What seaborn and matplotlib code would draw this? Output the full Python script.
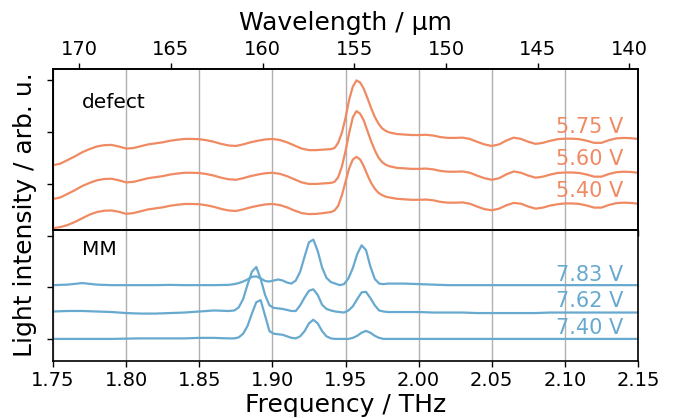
import matplotlib
matplotlib.use("Agg")
import matplotlib.pyplot as plt
import seaborn as sns

# --- dados ------------------------------------------------------------------
# grade de frequencia (THz) dos espectros "defect" (mais densa no pico)
freq_defect = [1.750, 1.755, 1.760, 1.765, 1.770, 1.775, 1.780, 1.785, 1.790, 1.795,
               1.800, 1.805, 1.810, 1.815, 1.820, 1.825, 1.830, 1.835, 1.840, 1.845,
               1.850, 1.855, 1.860, 1.865, 1.870, 1.875, 1.880, 1.885, 1.890, 1.895,
               1.900, 1.905, 1.910, 1.915, 1.920, 1.925, 1.930, 1.935, 1.940,
               1.9425, 1.945, 1.9475, 1.950, 1.9525, 1.955, 1.9575, 1.960, 1.9625,
               1.965, 1.9675, 1.970, 1.9725, 1.975, 1.9775, 1.980,
               1.985, 1.990, 1.995,
               2.000, 2.005, 2.010, 2.015, 2.020, 2.025, 2.030, 2.035, 2.040, 2.045,
               2.050, 2.055, 2.060, 2.065, 2.070, 2.075, 2.080, 2.085, 2.090, 2.095,
               2.100, 2.105, 2.110, 2.115, 2.120, 2.125, 2.130, 2.135, 2.140, 2.145,
               2.150]

defect_575 = [0.36, 0.39, 0.46, 0.53, 0.61, 0.67, 0.72, 0.745, 0.75, 0.72,
              0.68, 0.69, 0.725, 0.76, 0.78, 0.80, 0.83, 0.85, 0.865, 0.865,
              0.86, 0.84, 0.81, 0.77, 0.74, 0.73, 0.76, 0.80, 0.83, 0.855,
              0.865, 0.845, 0.80, 0.74, 0.68, 0.65, 0.65, 0.66, 0.67,
              0.69, 0.79, 0.98, 1.27, 1.62, 1.87, 1.99, 1.95, 1.83,
              1.65, 1.46, 1.29, 1.16, 1.07, 1.02, 0.99,
              0.96, 0.95, 0.94,
              0.94, 0.945, 0.93, 0.90, 0.885, 0.885, 0.89, 0.865, 0.81, 0.76,
              0.73, 0.76, 0.835, 0.89, 0.865, 0.81, 0.77, 0.79, 0.83, 0.86,
              0.87, 0.87, 0.86, 0.83, 0.79, 0.79, 0.84, 0.875, 0.885, 0.88,
              0.865]

defect_560 = [-0.29, -0.26, -0.19, -0.12, -0.04, 0.02, 0.07, 0.095, 0.10, 0.07,
              0.03, 0.04, 0.075, 0.11, 0.13, 0.15, 0.18, 0.20, 0.215, 0.215,
              0.21, 0.19, 0.16, 0.12, 0.09, 0.08, 0.11, 0.15, 0.18, 0.205,
              0.215, 0.195, 0.15, 0.09, 0.03, 0.00, 0.00, 0.01, 0.02,
              0.04, 0.13, 0.33, 0.63, 0.98, 1.28, 1.40, 1.35, 1.22,
              1.02, 0.82, 0.65, 0.51, 0.42, 0.37, 0.34,
              0.31, 0.30, 0.29,
              0.29, 0.295, 0.28, 0.25, 0.235, 0.235, 0.24, 0.215, 0.16, 0.11,
              0.08, 0.11, 0.185, 0.24, 0.215, 0.16, 0.12, 0.14, 0.18, 0.21,
              0.22, 0.22, 0.21, 0.18, 0.14, 0.14, 0.19, 0.225, 0.235, 0.23,
              0.215]

defect_540 = [-0.85, -0.83, -0.79, -0.73, -0.66, -0.59, -0.54, -0.515, -0.51, -0.535,
              -0.575, -0.56, -0.525, -0.49, -0.47, -0.45, -0.42, -0.40, -0.385, -0.385,
              -0.39, -0.41, -0.44, -0.48, -0.51, -0.52, -0.49, -0.45, -0.42, -0.395,
              -0.385, -0.405, -0.45, -0.51, -0.56, -0.58, -0.575, -0.56, -0.54,
              -0.51, -0.42, -0.22, 0.04, 0.30, 0.47, 0.52, 0.47, 0.34,
              0.17, 0.02, -0.09, -0.17, -0.215, -0.245, -0.26,
              -0.285, -0.295, -0.305,
              -0.305, -0.30, -0.315, -0.345, -0.36, -0.36, -0.355, -0.38, -0.435, -0.485,
              -0.505, -0.475, -0.41, -0.365, -0.38, -0.435, -0.475, -0.455, -0.415, -0.39,
              -0.375, -0.375, -0.385, -0.415, -0.455, -0.455, -0.405, -0.37, -0.36, -0.365,
              -0.38]

# grade de frequencia (THz) dos espectros "MM" (mais densa nos picos)
freq_mm = [1.75, 1.76, 1.77, 1.78, 1.79, 1.80, 1.81, 1.82, 1.83, 1.84, 1.85, 1.86, 1.87,
           1.874, 1.877, 1.880, 1.883, 1.886, 1.889, 1.892, 1.895, 1.898, 1.901,
           1.904, 1.907, 1.910, 1.913, 1.916, 1.919, 1.922, 1.925, 1.928, 1.931,
           1.934, 1.937, 1.940, 1.943, 1.946, 1.949, 1.952, 1.955, 1.958, 1.961,
           1.964, 1.967, 1.970, 1.973, 1.976, 1.979,
           1.99, 2.00, 2.01, 2.02, 2.03, 2.04, 2.05, 2.06, 2.07, 2.08, 2.09,
           2.10, 2.11, 2.12, 2.13, 2.14, 2.15]

mm_783 = [1.04, 1.05, 1.08, 1.05, 1.04, 1.04, 1.04, 1.04, 1.045, 1.04, 1.04, 1.04, 1.045,
          1.06, 1.08, 1.11, 1.15, 1.20, 1.21, 1.17, 1.12, 1.11, 1.13,
          1.15, 1.13, 1.09, 1.07, 1.13, 1.30, 1.59, 1.87, 1.92, 1.70,
          1.38, 1.18, 1.10, 1.07, 1.04, 1.06, 1.17, 1.37, 1.64, 1.81,
          1.72, 1.40, 1.16, 1.07, 1.06, 1.07,
          1.07, 1.06, 1.05, 1.04, 1.04, 1.04, 1.04, 1.04, 1.04, 1.04, 1.04,
          1.04, 1.04, 1.04, 1.04, 1.04, 1.04]

mm_762 = [0.53, 0.54, 0.54, 0.53, 0.52, 0.50, 0.49, 0.49, 0.50, 0.51, 0.53, 0.55, 0.54,
          0.55, 0.61, 0.77, 1.05, 1.30, 1.39, 1.16, 0.85, 0.65, 0.60,
          0.59, 0.58, 0.56, 0.54, 0.54, 0.65, 0.80, 0.93, 0.96, 0.85,
          0.66, 0.58, 0.55, 0.53, 0.52, 0.51, 0.55, 0.63, 0.77, 0.90,
          0.91, 0.79, 0.65, 0.55, 0.53, 0.52,
          0.52, 0.52, 0.51, 0.51, 0.51, 0.50, 0.50, 0.50, 0.50, 0.50, 0.51,
          0.51, 0.51, 0.51, 0.51, 0.51, 0.51]

mm_740 = [0.00, 0.00, 0.00, 0.00, 0.00, 0.005, 0.01, 0.01, 0.01, 0.01, 0.02, 0.02, 0.01,
          0.01, 0.03, 0.10, 0.25, 0.49, 0.71, 0.75, 0.45, 0.15, 0.10,
          0.09, 0.08, 0.05, 0.02, 0.01, 0.05, 0.15, 0.30, 0.37, 0.30,
          0.15, 0.05, 0.01, 0.00, 0.00, 0.00, 0.00, 0.02, 0.06, 0.12,
          0.155, 0.12, 0.06, 0.02, 0.00, 0.00,
          0.00, 0.00, 0.00, 0.00, 0.00, 0.00, 0.00, 0.00, 0.00, 0.00, 0.00,
          0.00, 0.00, 0.00, 0.00, 0.00, 0.00]

defect_labels = ["5.75 V", "5.60 V", "5.40 V"]
mm_labels = ["7.83 V", "7.62 V", "7.40 V"]

freq_ticks = [1.75, 1.80, 1.85, 1.90, 1.95, 2.00, 2.05, 2.10, 2.15]
wavelength_ticks = [170, 165, 160, 155, 150, 145, 140]

cor_defect = "#ef8a62"
cor_mm = "#67a9cf"

# --- figura -------------------------------------------------------------------
sns.set_style("ticks")
plt.rcParams['font.family'] = ['DejaVu Sans']
plt.rcParams['text.color'] = 'black'
plt.rcParams['axes.labelcolor'] = 'black'

fig, (ax_d, ax_m) = plt.subplots(2, 1, figsize=(6.77, 4.18), dpi=100, sharex=True,
                                 gridspec_kw={'height_ratios': [161, 131], 'hspace': 0})
fig.subplots_adjust(left=0.0783, right=0.9424, top=0.835, bottom=0.1364)

for serie in [defect_575, defect_560, defect_540]:
    sns.lineplot(x=freq_defect, y=serie, ax=ax_d, color=cor_defect, lw=1.6)
for serie in [mm_783, mm_762, mm_740]:
    sns.lineplot(x=freq_mm, y=serie, ax=ax_m, color=cor_mm, lw=1.6)

ax_d.set_ylim(-0.885, 2.21)
ax_m.set_ylim(-0.427, 2.107)
ax_m.set_xlim(1.75, 2.15)
ax_m.set_xticks(freq_ticks)
ax_m.set_xticklabels([f"{t:.2f}" for t in freq_ticks])

for ax in (ax_d, ax_m):
    ax.set_yticks([0, 1, 2])
    ax.set_yticklabels([])
    ax.grid(axis='x', color='#b0b0b0', lw=1.0)
    ax.tick_params(axis='both', direction='out', length=4, width=1, colors='black',
                   labelsize=14)
    for s in ax.spines.values():
        s.set_color('black')
        s.set_linewidth(1.2)
        s.set_visible(True)
ax_d.tick_params(axis='x', bottom=False, labelbottom=False)

# rotulos de tensao
for lab, yy in zip(defect_labels, [1.10, 0.475, -0.13]):
    ax_d.text(2.14, yy, lab, color=cor_defect, fontsize=15, ha='right', va='center')
for lab, yy in zip(mm_labels, [1.243, 0.724, 0.208]):
    ax_m.text(2.14, yy, lab, color=cor_mm, fontsize=15, ha='right', va='center')

ax_d.text(1.77, 1.56, "defect", fontsize=14.5, ha='left', va='center', color='black')
ax_m.text(1.77, 1.73, "MM", fontsize=14.5, ha='left', va='center', color='black')

ax_m.set_xlabel("Frequency / THz", fontsize=18, labelpad=2)
fig.text(0.037, 0.487, "Light intensity / arb. u.", rotation=90, fontsize=18,
         ha='center', va='center', color='black')

# eixo superior em comprimento de onda (c = 3e8 m/s)
ax_wl = ax_d.twiny()
ax_wl.set_xlim(300 / 1.75, 300 / 2.15)
ax_wl.set_xticks(wavelength_ticks)
ax_wl.set_xticklabels([str(t) for t in wavelength_ticks])
ax_wl.tick_params(axis='x', direction='out', length=4, width=1, colors='black', labelsize=14)
ax_wl.set_xlabel("Wavelength / µm", fontsize=18, labelpad=7)
for s in ax_wl.spines.values():
    s.set_color('black')
    s.set_linewidth(1.2)

plt.savefig("out.png", dpi=100)
plt.close()
